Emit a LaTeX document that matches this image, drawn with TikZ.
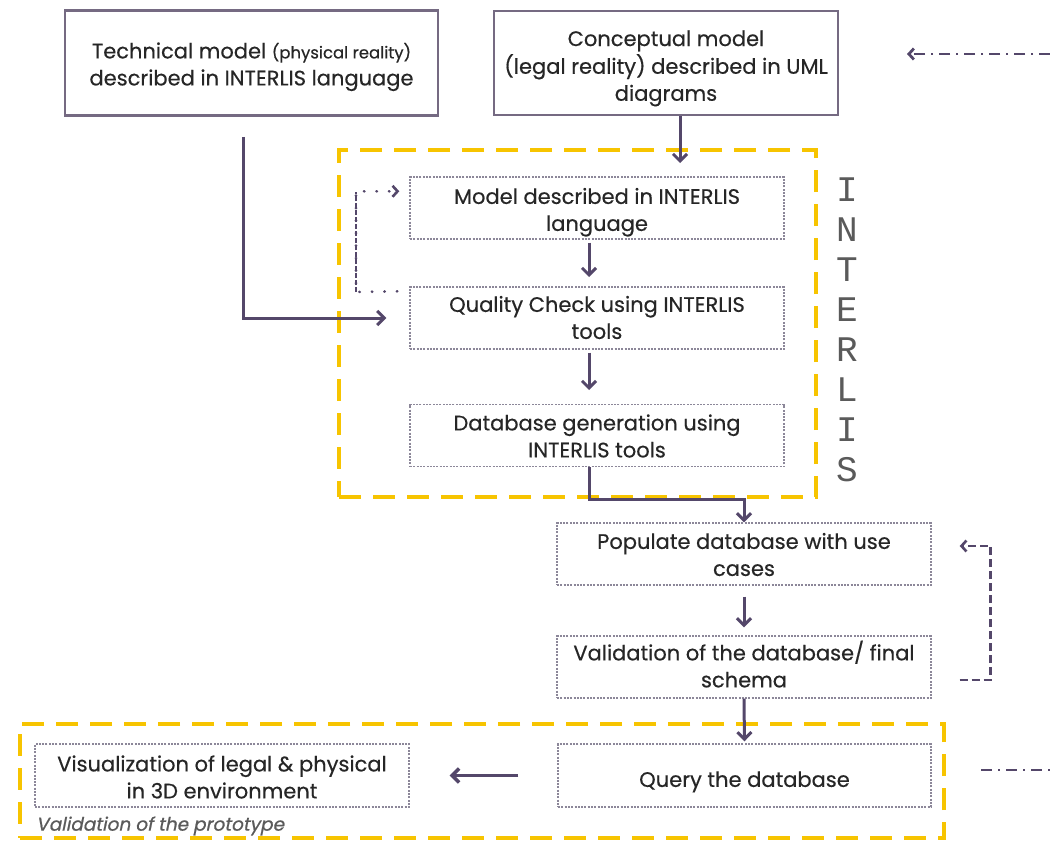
\documentclass[tikz,border=0pt]{standalone}
\usepackage{fontspec}
\setmainfont[FakeBold=0.4]{Poppins}
\newfontfamily\interfont{Liberation Mono}
\newfontfamily\protofont[FakeSlant=0.2,FakeBold=0.8]{Poppins}
\usetikzlibrary{arrows.meta}
\definecolor{boxline}{HTML}{756A82}
\definecolor{arrowc}{HTML}{54476A}
\definecolor{dotline}{HTML}{8C8799}
\definecolor{yel}{HTML}{F7C400}
\definecolor{txt}{HTML}{262626}
\definecolor{lettergray}{HTML}{5A5A5A}
\newcommand{\boxlines}[2][4pt]{\raisebox{-#1}[\height][\depth]{\begin{tabular}{@{}c@{}}#2\end{tabular}}}
\tikzset{
  boxtext/.style={align=center, text=txt, inner sep=0pt, font=\fontsize{21}{27}\selectfont},
  solidbox/.style={boxtext, draw=boxline, line width=2.6pt},
  dotbox/.style={boxtext, draw=dotline, line width=1.4pt, dash pattern=on 2pt off 1.3pt},
  yframe/.style={draw=yel, line width=4.2pt, dash pattern=on 22pt off 12pt, inner sep=0pt},
  arr/.style={draw=arrowc, line width=3pt, -{Straight Barb[length=7pt,width=14pt]}},
  loopd/.style={draw=arrowc, line width=2.6pt, line cap=round, dash pattern=on 0.5pt off 12pt, -{Straight Barb[length=5pt,width=11pt]}},
  loopv/.style={draw=arrowc, line width=2.6pt, dash pattern=on 5pt off 2pt},
  fb/.style={draw=arrowc, line width=2.6pt, dash pattern=on 8pt off 4pt, -{Straight Barb[length=5pt,width=11pt]}},
  dashdot/.style={draw=arrowc, line width=2.8pt, dash pattern=on 11pt off 6pt on 2pt off 6pt},
}
\begin{document}
\begin{tikzpicture}[x=1pt,y=-1pt]
\useasboundingbox (0,0) rectangle (1050,843);
\fill[white] (0,0) rectangle (1050,843);
% frames
\node[yframe, minimum width=477pt, minimum height=347pt] (frameI) at (577.5,323.5) {};
\node[yframe, minimum width=924pt, minimum height=114pt] (frameV) at (482,781) {};
% boxes
\node[solidbox, minimum width=373pt, minimum height=105pt] (b1) at (251.5,63)
  {\boxlines[3.5pt]{Technical model {\fontsize{16.5}{27}\selectfont (physical reality)}\\described in INTERLIS language}};
\node[solidbox, minimum width=344pt, minimum height=104pt] (b2) at (666,63)
  {\boxlines[5pt]{Conceptual model\\(legal reality) described in UML\\diagrams}};
\node[dotbox, minimum width=374pt, minimum height=62pt] (b3) at (597,208)
  {\boxlines[4pt]{Model described in INTERLIS\\language}};
\node[dotbox, minimum width=374pt, minimum height=62pt] (b4) at (597,318)
  {\boxlines[2pt]{Quality Check using INTERLIS\\tools}};
\node[dotbox, minimum width=374pt, minimum height=62pt] (b5) at (597,435.5)
  {\boxlines[3pt]{Database generation using\\INTERLIS tools}};
\node[dotbox, minimum width=374pt, minimum height=62pt] (b6) at (744,554)
  {\boxlines[3pt]{Populate database with use\\cases}};
\node[dotbox, minimum width=374pt, minimum height=62pt] (b7) at (744,667)
  {\boxlines[1pt]{Validation of the database/ final\\schema}};
\node[dotbox, minimum width=373pt, minimum height=63pt] (b8) at (744.5,775.5)
  {\boxlines[6pt]{Query the database}};
\node[dotbox, minimum width=374pt, minimum height=63pt] (b9) at (222,775.5)
  {\boxlines[4pt]{Visualization of legal \& physical\\in 3D environment}};
% labels
\node[align=center, inner sep=0pt, text=lettergray, font=\interfont\fontsize{36}{40}\selectfont] (interlis) at (847,330)
  {I\\N\\T\\E\\R\\L\\I\\S};
\node[anchor=west, inner sep=0pt, text=lettergray, font=\protofont\fontsize{18.5}{20}\selectfont] (proto) at (36,826)
  {Validation of the prototype};
% coordinates
\coordinate (c23) at (680,163);
\coordinate (c34) at (589,277);
\coordinate (c45) at (589,390);
\coordinate (t1) at (243,0);
\coordinate (l1) at (356,292);
\coordinate (l2) at (356,192);
\coordinate (e1) at (1050,54);
\coordinate (e2) at (907,54);
\coordinate (e3) at (981,770);
\coordinate (e4) at (1050,770);
% connectors
\draw[arr] (b2.south -| c23) -- (c23);
\draw[arr, shorten <=3pt] (b3.south -| c34) -- (c34);
\draw[arr, shorten <=3pt] (b4.south -| c45) -- (c45);
\draw[arr, shorten <=20pt, shorten >=23pt] (b1.south -| t1) |- (b4.west);
\draw[loopd] ([shift={(-12pt,-5pt)}]b4.north west) -- (l1) |- ([shift={(-10pt,-15pt)}]b3.north west);
\draw[loopv] (l1) -- (l2);
\draw[arr] (b5.south -| c45) -- ++(0,-32pt) -| (b6.north);
\draw[arr, shorten <=11pt, shorten >=8pt] (b6.south) -- (b7.north);
\draw[fb] ([shift={(28pt,-13pt)}]b7.east) -- ++(31pt,0) |- ([shift={(28pt,8pt)}]b6.east);
\draw[arr, shorten >=2pt] (b7.south) -- (b8.north);
\draw[arr, line width=3.4pt, shorten <=39pt, shorten >=40pt] (b8.west) -- (b9.east);
\draw[dashdot, -{Straight Barb[length=5pt,width=11pt]}] (e1) -- (e2);
\draw[dashdot] (e3) -- (e4);
\end{tikzpicture}
\end{document}
